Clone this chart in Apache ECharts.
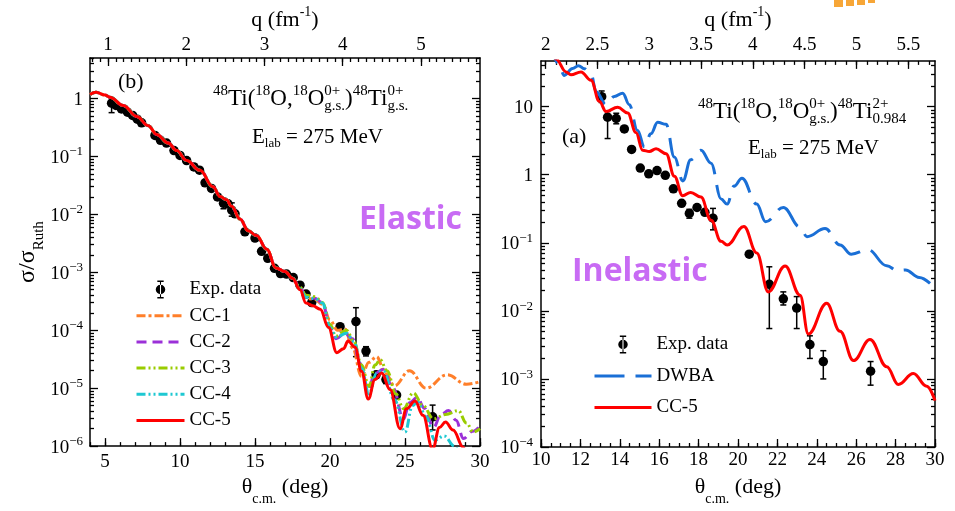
<!DOCTYPE html>
<html>
<head>
<meta charset="utf-8">
<script src="https://cdn.jsdelivr.net/npm/echarts@6/dist/echarts.min.js"></script>
<style>
  html, body { margin: 0; padding: 0; background: #fff; }
  #chart { width: 955px; height: 511px; }
</style>
</head>
<body>
<div id="chart"></div>
<script>
// ---- elastic panel (b) ----
var elExpTheta = [5.44, 5.73, 6.1, 6.5, 6.84, 7.15, 7.44, 8.33, 8.7, 9.1, 9.6, 10.0, 10.44, 10.93, 11.3, 11.67, 12.1, 12.5, 12.9, 13.2, 13.45, 13.67, 14.33, 15.0, 15.44, 15.85, 16.3, 16.7, 17.1, 17.55, 18.0, 18.4, 18.78, 20.67, 21.73, 22.4, 23.07, 23.73, 24.44, 26.84];
var elExpVal = [0.83, 0.76, 0.66, 0.58, 0.51, 0.44, 0.38, 0.23, 0.19, 0.17, 0.126, 0.104, 0.085, 0.066, 0.058, 0.035, 0.028, 0.020, 0.0155, 0.0152, 0.0118, 0.0102, 0.0050, 0.0039, 0.0023, 0.00174, 0.00117, 0.00095, 0.00093, 0.00081, 0.0006, 0.00042, 0.0003, 1.15e-4, 1.41e-4, 4.37e-5, 1.7e-5, 1.41e-5, 7.6e-6, 3.2e-6];
var elErrTheta = [5.44, 12.9, 13.45, 21.73, 22.4, 23.73, 26.84];
var elErrLo = [0.57, 0.0125, 0.0093, 3.5e-5, 3.6e-5, 1.2e-5, 1.9e-6];
var elErrHi = [1.01, 0.019, 0.0158, 2.45e-4, 5.2e-5, 1.7e-5, 5.1e-6];

// all CC curves lie on top of each other at forward angles
var elCcFwdTheta = [4, 4.4, 5, 5.33, 6.22, 7.11, 7.89, 8.44, 9.22, 9.78, 10.44, 11.33, 12.2, 12.67, 13.1, 13.44, 14, 14.55, 15.1, 15.78, 16.4, 17.0, 17.5];
var elCcFwdVal = [1.17, 1.28, 1.15, 1.05, 0.76, 0.49, 0.34, 0.24, 0.17, 0.126, 0.085, 0.0575, 0.030, 0.0204, 0.0178, 0.0138, 0.0083, 0.0052, 0.0043, 0.0025, 0.00119, 0.00103, 0.00079];

var cc1Theta = [18.0, 18.5, 19.0, 19.5, 20.0, 20.5, 21.0, 21.5, 22.1, 22.6, 23.1, 23.7, 24.3, 25.3, 26.4, 27.8, 29.1, 30];
var cc1Val = [5.2e-4, 3.5e-4, 3.4e-4, 2.8e-4, 1.5e-4, 1.0e-4, 1.05e-4, 5.0e-5, 1.6e-5, 2.8e-5, 3.5e-5, 1.8e-5, 1.1e-5, 2.0e-5, 1.0e-5, 1.7e-5, 1.17e-5, 1.3e-5];
var cc2Theta = [18.0, 18.4, 19.0, 19.5, 20.0, 20.4, 21.0, 21.5, 22.0, 22.55, 23.0, 23.55, 24.2, 24.9, 25.3, 25.8, 26.3, 26.9, 27.4, 27.9, 28.4, 28.9, 29.5, 30];
var cc2Val = [5.4e-4, 3.8e-4, 3.55e-4, 3.0e-4, 1.12e-4, 7.1e-5, 8.9e-5, 7.1e-5, 2.7e-5, 9.5e-6, 1.8e-5, 2.1e-5, 1.0e-5, 2.95e-6, 5.6e-6, 6.9e-6, 4.5e-6, 2.1e-6, 3.5e-6, 4.1e-6, 2.8e-6, 1.35e-6, 1.8e-6, 2.2e-6];
var cc3Theta = [18.0, 18.4, 19.0, 19.5, 20.0, 20.4, 21.1, 21.6, 22.1, 22.6, 23.0, 23.35, 23.8, 24.4, 24.9, 25.55, 26.2, 26.9, 27.7, 28.55, 29.1, 29.55, 30];
var cc3Val = [5.5e-4, 4.0e-4, 3.8e-4, 3.0e-4, 1.26e-4, 7.9e-5, 1.0e-4, 6.3e-5, 2.5e-5, 1.07e-5, 2.5e-5, 3.1e-5, 2.0e-5, 7.9e-6, 4.4e-6, 8.3e-6, 5.0e-6, 2.95e-6, 3.5e-6, 4.1e-6, 2.5e-6, 1.74e-6, 2.0e-6];
var cc4Theta = [18.0, 18.4, 19.0, 19.5, 20.0, 20.4, 21.1, 21.6, 22.1, 22.6, 23.1, 23.55, 24.3, 25.0, 25.5, 25.85, 26.4, 27.0, 27.6, 28.3, 28.9];
var cc4Val = [5.2e-4, 3.7e-4, 3.5e-4, 2.95e-4, 1.12e-4, 7.6e-5, 8.9e-5, 6.3e-5, 2.2e-5, 7.9e-6, 1.8e-5, 2.0e-5, 6.3e-6, 1.74e-6, 5.0e-6, 5.75e-6, 3.2e-6, 1.26e-6, 1.5e-6, 1.0e-6, 4.0e-7];
var cc5Theta = [18.0, 18.4, 18.85, 19.35, 19.9, 20.45, 20.9, 21.2, 21.67, 22.1, 22.55, 23.0, 23.44, 24.0, 24.67, 25.1, 25.67, 26.2, 26.84, 27.3, 27.7, 28.2, 28.9, 29.3];
var cc5Val = [5.0e-4, 2.95e-4, 2.65e-4, 2.3e-4, 1.12e-4, 4.1e-5, 4.8e-5, 6.5e-5, 5.1e-5, 1.95e-5, 6.5e-6, 1.41e-5, 1.82e-5, 9.5e-6, 2.0e-6, 4.4e-6, 6.0e-6, 3.4e-6, 8.9e-7, 2.1e-6, 2.6e-6, 1.9e-6, 9.5e-7, 3.2e-7];

// ---- inelastic panel (a) ----
var inExpTheta = [13.08, 13.38, 13.82, 14.23, 14.6, 15.04, 15.47, 15.89, 16.31, 16.72, 17.14, 17.53, 17.92, 18.32, 18.73, 20.57, 21.59, 22.3, 22.98, 23.65, 24.33, 26.73];
var inExpVal = [14, 7.0, 6.7, 4.7, 2.35, 1.25, 1.03, 1.15, 0.98, 0.62, 0.38, 0.27, 0.33, 0.28, 0.23, 0.068, 0.0245, 0.015, 0.011, 0.0032, 0.0018, 0.0013];
var inErrTheta = [13.08, 13.38, 13.82, 17.53, 18.73, 21.59, 22.3, 22.98, 23.65, 24.33, 26.73];
var inErrLo = [11.5, 3.4, 5.6, 0.23, 0.155, 0.0055, 0.0122, 0.0055, 0.002, 0.001, 0.00081];
var inErrHi = [17, 8.5, 8.0, 0.31, 0.32, 0.0444, 0.019, 0.0162, 0.0043, 0.0026, 0.0018];
var inCcTheta = [10, 10.5, 10.76, 11.27, 11.52, 12.03, 12.54, 12.96, 13.3, 13.89, 14.4, 14.82, 15.16, 15.5, 15.84, 16.35, 16.77, 17.19, 17.6, 18.12, 18.63, 19.14, 19.45, 20.3, 20.95, 21.54, 22.39, 23.15, 23.57, 24.5, 25.18, 25.86, 26.7, 27.55, 28.14, 28.9, 29.58, 30];
var inCcVal = [126, 71, 50, 32.4, 29.5, 32.4, 24.5, 12, 8.5, 9.8, 8.1, 4.17, 2.29, 2.2, 2.4, 2.04, 0.95, 0.49, 0.55, 0.47, 0.214, 0.105, 0.093, 0.174, 0.071, 0.019, 0.0457, 0.017, 0.00457, 0.0129, 0.005, 0.00186, 0.0038, 0.00151, 0.00083, 0.0012, 0.00078, 0.00048];
var inDwTheta = [10, 10.5, 10.9, 11.18, 11.6, 11.9, 12.2, 12.54, 12.8, 13.3, 13.72, 14.15, 14.48, 14.9, 15.25, 15.58, 15.92, 16.35, 16.77, 17.2, 17.6, 18.12, 18.63, 19.14, 19.45, 19.8, 20.2, 20.95, 21.4, 22.3, 23.15, 23.5, 24.42, 25.18, 25.75, 26.6, 27.55, 28.1, 28.5, 29.2, 30];
var inDwVal = [100, 63, 42.7, 28.8, 36.3, 40, 36, 30, 16.6, 10.7, 14.1, 15.8, 10.7, 4.47, 2.57, 4.0, 5.89, 5.5, 1.82, 0.81, 1.66, 2.29, 1.48, 0.44, 0.37, 0.68, 0.89, 0.37, 0.204, 0.33, 0.17, 0.123, 0.162, 0.093, 0.068, 0.079, 0.046, 0.039, 0.040, 0.031, 0.0214];

// tick labels
var elThetaTicks = [5, 10, 15, 20, 25, 30];
var elQTicks = [1, 2, 3, 4, 5];
var elYTicks = [1e-6, 1e-5, 1e-4, 1e-3, 1e-2, 1e-1, 1];
var inThetaTicks = [10, 12, 14, 16, 18, 20, 22, 24, 26, 28, 30];
var inQTicks = [2, 2.5, 3, 3.5, 4, 4.5, 5, 5.5];
var inYTicks = [1e-4, 1e-3, 1e-2, 1e-1, 1, 10];

var serif = '"Liberation Serif", "Times New Roman", serif';

function zip(xs, ys) {
  return xs.map(function (x, i) { return [x, ys[i]]; });
}
function zip3(xs, a, b) {
  return xs.map(function (x, i) { return [x, a[i], b[i]]; });
}
function linTicks(a, b, step) {
  var out = [];
  for (var v = a; v <= b + 1e-9; v += step) out.push(Math.round(v * 100) / 100);
  return out;
}
function logMinor(e0, e1) {
  var out = [];
  for (var e = e0; e <= e1; e++) {
    for (var k = 2; k < 10; k++) out.push(parseFloat((k * Math.pow(10, e)).toPrecision(3)));
  }
  return out;
}
function powLabel(v) {
  var e = Math.round(Math.log(v) / Math.LN10);
  if (e === 0) return '{b|1}';
  if (e === 1) return '{b|10}';
  return '{b|10}{s|\u2212' + (-e) + '}';
}
var labelRich = {
  b: { fontFamily: serif, fontSize: 19, color: '#000', lineHeight: 22, verticalAlign: 'bottom' },
  s: { fontFamily: serif, fontSize: 13, color: '#000', lineHeight: 13, verticalAlign: 'top' }
};

// one axis = one set of inside ticks; several axes are stacked to get major + minor ticks
function axis(grid, pos, type, min, max, ticks, len, labels, extra) {
  var a = {
    type: type, gridIndex: grid, position: pos, min: min, max: max,
    axisLine: { show: !!labels, onZero: false, lineStyle: { color: '#000', width: 1.5 } },
    axisTick: { show: true, inside: true, length: len, customValues: ticks, lineStyle: { color: '#000', width: 1.3 } },
    axisLabel: { show: false },
    splitLine: { show: false }
  };
  if (labels) {
    a.axisLabel = { show: true, customValues: labels, fontFamily: serif, fontSize: 19, color: '#000', margin: 6 };
  }
  return Object.assign(a, extra || {});
}

var thetaName = {
  name: '{t|\u03b8}{s|c.m.}{t| (deg)}', nameLocation: 'middle',
  nameTextStyle: { rich: {
    t: { fontFamily: serif, fontSize: 22, color: '#000', lineHeight: 26, verticalAlign: 'top' },
    s: { fontFamily: serif, fontSize: 14, color: '#000', lineHeight: 14, verticalAlign: 'bottom', padding: [0, 0, -4, 0] } } }
};
var qName = {
  name: '{t|q (fm}{p|-1}{t|)}', nameLocation: 'middle',
  nameTextStyle: { rich: {
    t: { fontFamily: serif, fontSize: 22, color: '#000', lineHeight: 26, verticalAlign: 'bottom' },
    p: { fontFamily: serif, fontSize: 14, color: '#000', lineHeight: 14, verticalAlign: 'top' } } }
};

var xAxes = [
  axis(0, 'bottom', 'value', 4, 30, elThetaTicks, 8, elThetaTicks, Object.assign({ nameGap: 27 }, thetaName)),
  axis(0, 'bottom', 'value', 4, 30, linTicks(4, 30, 1), 4),
  axis(0, 'top', 'value', 0.77, 5.754, elQTicks, 8, elQTicks, Object.assign({ nameGap: 27 }, qName)),
  axis(0, 'top', 'value', 0.77, 5.754, linTicks(0.8, 5.7, 0.1), 4),
  axis(1, 'bottom', 'value', 10, 30, inThetaTicks, 8, inThetaTicks, Object.assign({ nameGap: 29 }, thetaName)),
  axis(1, 'bottom', 'value', 10, 30, linTicks(10, 30, 0.5), 4),
  axis(1, 'top', 'value', 1.955, 5.758, inQTicks, 8, inQTicks, Object.assign({ nameGap: 29 }, qName)),
  axis(1, 'top', 'value', 1.955, 5.758, linTicks(2, 5.7, 0.1), 4)
];
xAxes[0].axisLabel.margin = 6;
xAxes[2].axisLabel.margin = 3;
xAxes[4].axisLabel.margin = 4;
xAxes[6].axisLabel.margin = 6;

var yAxes = [
  axis(0, 'left', 'log', 1e-6, 5, elYTicks, 8, elYTicks, {
    name: '{a|\u03c3/\u03c3}{r|Ruth}', nameLocation: 'middle', nameGap: 46, nameRotate: 90,
    nameTextStyle: { rich: {
      a: { fontFamily: serif, fontSize: 24, color: '#000', lineHeight: 28, verticalAlign: 'top' },
      r: { fontFamily: serif, fontSize: 15, color: '#000', lineHeight: 15, verticalAlign: 'bottom', padding: [0, 0, -3, 0] } } }
  }),
  axis(0, 'left', 'log', 1e-6, 5, logMinor(-6, 0), 4),
  axis(0, 'right', 'log', 1e-6, 5, elYTicks, 8),
  axis(0, 'right', 'log', 1e-6, 5, logMinor(-6, 0), 4),
  axis(1, 'left', 'log', 1e-4, 47, inYTicks, 8, inYTicks),
  axis(1, 'left', 'log', 1e-4, 47, logMinor(-4, 1), 4),
  axis(1, 'right', 'log', 1e-4, 47, inYTicks, 8),
  axis(1, 'right', 'log', 1e-4, 47, logMinor(-4, 1), 4)
];
yAxes[0].axisLabel.formatter = powLabel; yAxes[0].axisLabel.rich = labelRich; yAxes[0].axisLabel.margin = 7;
yAxes[4].axisLabel.formatter = powLabel; yAxes[4].axisLabel.rich = labelRich; yAxes[4].axisLabel.margin = 8;
yAxes[2].axisLine.show = true;
yAxes[6].axisLine.show = true;

function errBars(xi, yi, xs, lo, hi) {
  return {
    type: 'custom', xAxisIndex: xi, yAxisIndex: yi, silent: true,
    data: zip3(xs, lo, hi),
    encode: { x: 0, y: [1, 2] },
    renderItem: function (params, api) {
      var top = api.coord([api.value(0), api.value(2)]);
      var bot = api.coord([api.value(0), api.value(1)]);
      var w = 3, st = { stroke: '#000', lineWidth: 1.5 };
      return { type: 'group', children: [
        { type: 'line', shape: { x1: top[0], y1: top[1], x2: bot[0], y2: bot[1] }, style: st },
        { type: 'line', shape: { x1: top[0] - w, y1: top[1], x2: top[0] + w, y2: top[1] }, style: st },
        { type: 'line', shape: { x1: bot[0] - w, y1: bot[1], x2: bot[0] + w, y2: bot[1] }, style: st }
      ] };
    }
  };
}
function expSeries(xi, yi, xs, ys) {
  return {
    name: 'Exp. data', type: 'scatter', xAxisIndex: xi, yAxisIndex: yi,
    symbol: 'circle', symbolSize: 9.5, itemStyle: { color: '#000', opacity: 1 },
    data: zip(xs, ys)
  };
}
function curve(name, xi, yi, data, color, dash) {
  return {
    name: name, type: 'line', xAxisIndex: xi, yAxisIndex: yi,
    showSymbol: false, symbol: 'none', smooth: 0.4, smoothMonotone: 'x',
    lineStyle: { color: color, width: 3, type: dash || 'solid' },
    itemStyle: { color: color },
    data: data
  };
}
function withFwd(xs, ys) {
  return zip(elCcFwdTheta, elCcFwdVal).concat(zip(xs, ys));
}

var expIcon = 'path://M4 0H5V17H4Z M1.5 0H7.5V1.3H1.5Z M1.5 15.7H7.5V17H1.5Z M0 8.5A4.5 4.5 0 1 0 9 8.5A4.5 4.5 0 1 0 0 8.5Z';
// legend entry for a curve: line only, no symbol in the middle
function lineItem(name) {
  return { name: name, itemStyle: { color: 'rgba(0,0,0,0)', borderWidth: 0, opacity: 0 } };
}

function txt(s, x, y, size, opt) {
  return {
    type: 'text', x: x, y: y, silent: true,
    style: Object.assign({ text: s, font: size + 'px ' + serif, fill: '#000', verticalAlign: 'middle' }, opt || {})
  };
}
var measure = document.createElement('canvas').getContext('2d');
function tw(s, size) { measure.font = size + 'px ' + serif; return measure.measureText(s).width; }
// tokens: plain string, or [sup, sub] stacked scripts
function formula(tokens, x, y, size) {
  var small = Math.round(size * 0.64), out = [], cx = x;
  tokens.forEach(function (tk) {
    if (typeof tk === 'string') {
      out.push(txt(tk, cx, y, size)); cx += tw(tk, size);
    } else {
      var w = 0;
      if (tk[0]) { out.push(txt(tk[0], cx, y - size * 0.36, small)); w = tw(tk[0], small); }
      if (tk[1]) { out.push(txt(tk[1], cx, y + size * 0.32, small)); w = Math.max(w, tw(tk[1], small)); }
      cx += w;
    }
  });
  return out;
}

var graphics = []
  .concat(formula([['48'], 'Ti(', ['18'], 'O,', ['18'], 'O', ['0+', 'g.s.'], ')', ['48'], 'Ti', ['0+', 'g.s.']], 213, 99, 23))
  .concat(formula(['E', [null, 'lab'], ' = 275 MeV'], 252, 137, 21))
  .concat(formula([['48'], 'Ti(', ['18'], 'O,', ['18'], 'O', ['0+', 'g.s.'], ')', ['48'], 'Ti', ['2+', '0.984']], 698, 112, 23))
  .concat(formula(['E', [null, 'lab'], ' = 275 MeV'], 748, 148, 21))
  .concat([
    txt('(b)', 118, 82, 22),
    txt('(a)', 562, 137, 22),
    txt('Elastic', 359, 220, 32, { font: 'bold 32px "Open Sans", sans-serif', fill: '#c86bf4' }),
    txt('Inelastic', 572, 272, 32, { font: 'bold 32px "Open Sans", sans-serif', fill: '#c86bf4' }),
    { type: 'rect', shape: { x: 834, y: 0, width: 9, height: 7 }, style: { fill: '#f7a637' }, silent: true },
    { type: 'rect', shape: { x: 846, y: 0, width: 8, height: 6 }, style: { fill: '#f7a637' }, silent: true },
    { type: 'rect', shape: { x: 857, y: 0, width: 8, height: 5 }, style: { fill: '#f7a637' }, silent: true },
    { type: 'rect', shape: { x: 868, y: 0, width: 7, height: 3 }, style: { fill: '#f7a637' }, silent: true }
  ]);

var legendText = { fontFamily: serif, fontSize: 19, color: '#000', lineHeight: 18 };

var option = {
  animation: false,
  backgroundColor: '#fff',
  grid: [
    { left: 90, top: 55, width: 390, height: 396 },
    { left: 541, top: 60, width: 394, height: 395 }
  ],
  xAxis: xAxes,
  yAxis: yAxes,
  legend: [
    {
      orient: 'vertical', left: 130, top: 275, itemWidth: 48, itemHeight: 18, itemGap: 7.2,
      selectedMode: false, textStyle: legendText, lineStyle: { width: 3 },
      data: [{ name: 'Exp. data', icon: expIcon }, lineItem('CC-1'), lineItem('CC-2'), lineItem('CC-3'), lineItem('CC-4'), lineItem('CC-5')]
    },
    {
      orient: 'vertical', left: 588, top: 330, itemWidth: 57, itemHeight: 18, itemGap: 12.5,
      selectedMode: false, textStyle: legendText, lineStyle: { width: 3 },
      data: [{ name: 'Exp. data', icon: expIcon }, lineItem('DWBA'), lineItem('CC-5')]
    }
  ],
  graphic: graphics,
  series: [
    errBars(0, 0, elErrTheta, elErrLo, elErrHi),
    expSeries(0, 0, elExpTheta, elExpVal),
    curve('CC-1', 0, 0, withFwd(cc1Theta, cc1Val), '#ff7f2a', [9, 3, 3, 3]),
    curve('CC-2', 0, 0, withFwd(cc2Theta, cc2Val), '#9b30d8', [10, 6]),
    curve('CC-3', 0, 0, withFwd(cc3Theta, cc3Val), '#99cc00', [9, 3, 2, 3, 2, 3]),
    curve('CC-4', 0, 0, withFwd(cc4Theta, cc4Val), '#1ec8d2', [9, 3, 2, 3, 2, 3]),
    curve('CC-5', 0, 0, withFwd(cc5Theta, cc5Val), '#ff0000'),

    errBars(4, 4, inErrTheta, inErrLo, inErrHi),
    expSeries(4, 4, inExpTheta, inExpVal),
    curve('DWBA', 4, 4, zip(inDwTheta, inDwVal), '#1a6fd6', [30, 11]),
    curve('CC-5', 4, 4, zip(inCcTheta, inCcVal), '#ff0000')
  ]
};

var chart = echarts.init(document.getElementById('chart'));
chart.setOption(option);
</script>
</body>
</html>
